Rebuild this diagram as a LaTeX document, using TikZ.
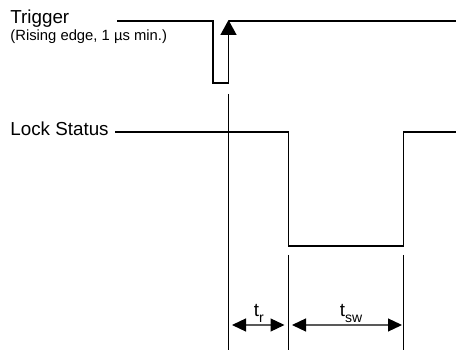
\documentclass[tikz,border=0pt]{standalone}
\usepackage{fontspec}
\setmainfont{Liberation Sans}
\usetikzlibrary{arrows.meta}
\tikzset{
  wave/.style={line width=.75pt},
  guide/.style={line width=.5pt},
  span/.style={line width=.6pt,black!65,{Triangle[width=6.5pt,length=7pt,color=black]}-{Triangle[width=6.5pt,length=7pt,color=black]}},
  lbl/.style={anchor=base west,inner sep=0pt,font=\fontsize{9.4}{11}\selectfont},
}
\newcommand{\tsub}[1]{\raisebox{-2.5pt}{\fontsize{7}{8}\selectfont #1}}
\begin{document}
\begin{tikzpicture}[x=.5pt,y=-.5pt]
\path[use as bounding box] (0,0) rectangle (456,353);
% labels
\node[lbl] (trig) at (10,24) {Trigger};
\node[lbl,font=\fontsize{7.4}{9}\selectfont] (trignote) at (10,41) {(Rising edge, 1 µs min.)};
\node[lbl] (lock) at (10,136) {Lock Status};
% trigger
\coordinate (t0) at (117,21);
\coordinate (t1) at (213,21);
\coordinate (t2) at (213,83);
\coordinate (t3) at (228.5,83);
\coordinate (t4) at (228.5,20);
\coordinate (t5) at (456,21);
\draw[wave] (t0)--(t1)--(t2)--(t3);
\draw[wave,-{Triangle[width=8pt,length=7.5pt]}] (t3)--(t4);
\draw[wave] (228.5,21)--(t5);
% lock status
\coordinate (s0) at (115,132);
\coordinate (s1) at (288.5,132);
\coordinate (s2) at (288.5,246);
\coordinate (s3) at (403.5,246);
\coordinate (s4) at (403.5,132);
\coordinate (s5) at (456,132);
\draw[wave] (s0)--(s1)--(s2)--(s3)--(s4)--(s5);
% guides
\draw[guide] (228.5,94) coordinate (g1a)--(228.5,350) coordinate (g1b);
\draw[guide] (288.5,255) coordinate (g2a)--(288.5,350) coordinate (g2b);
\draw[guide] (403.5,255) coordinate (g3a)--(403.5,350) coordinate (g3b);
% times
\coordinate (r0) at (232,325);
\coordinate (r1) at (284.5,325);
\coordinate (w0) at (292,325);
\coordinate (w1) at (402,325);
\draw[span] (r0)--(r1);
\draw[span] (w0)--(w1);
\node[lbl] (tr) at (253.5,317) {t\tsub{r}};
\node[lbl] (tsw) at (339.5,317) {t\tsub{sw}};
\end{tikzpicture}
\end{document}
